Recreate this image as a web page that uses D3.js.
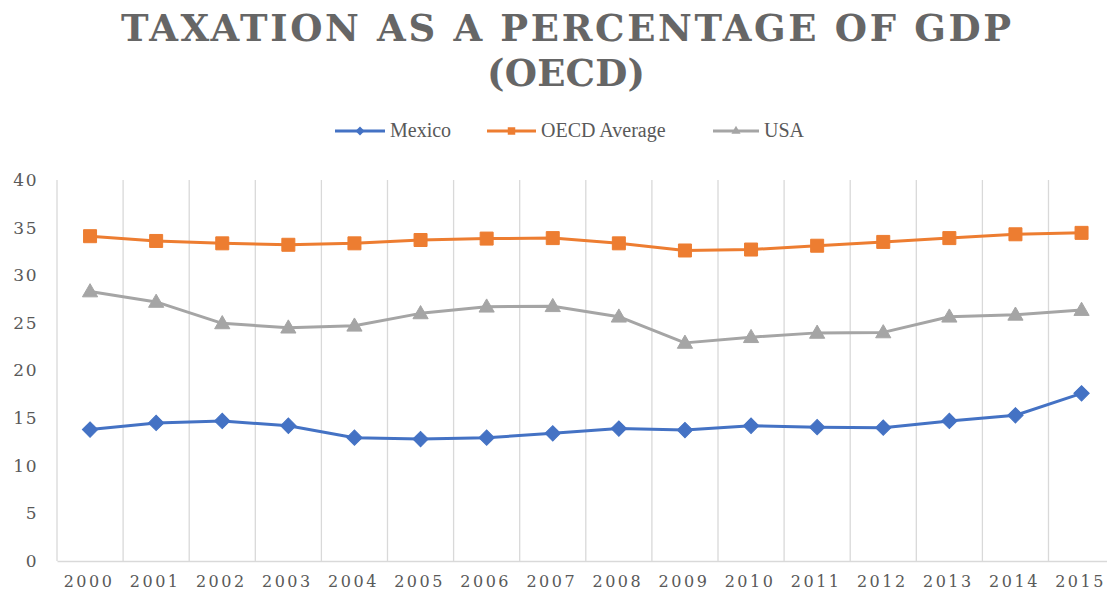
<!DOCTYPE html>
<html lang="en">
	<head>
		<meta charset="utf-8">
		<title>Taxation as a percentage of GDP</title>
		<script type="text/javascript" src="https://cdn.jsdelivr.net/npm/d3@7"></script>
		<style type="text/css">
			body { margin: 0; background: #fff; }
			svg { display: block; }
		</style>
	</head>

	<body>
		<script type="text/javascript">
			/* values */
			var years = ["2000", "2001", "2002", "2003", "2004", "2005", "2006", "2007",
						 "2008", "2009", "2010", "2011", "2012", "2013", "2014", "2015"];
			var mexico = [13.8, 14.5, 14.7, 14.2, 12.95, 12.8, 12.95, 13.4,
						  13.9, 13.75, 14.2, 14.05, 14.0, 14.7, 15.3, 17.6];
			var oecdAverage = [34.1, 33.6, 33.35, 33.2, 33.35, 33.7, 33.85, 33.9,
							   33.35, 32.6, 32.7, 33.1, 33.5, 33.9, 34.3, 34.45];
			var usa = [28.3, 27.2, 24.95, 24.5, 24.7, 26.0, 26.7, 26.75,
					   25.65, 22.9, 23.5, 23.95, 24.0, 25.65, 25.85, 26.35];
			var yTicks = [0, 5, 10, 15, 20, 25, 30, 35, 40];

			var series = [
				{ name: "Mexico", values: mexico, color: "#4472C4", shape: "diamond" },
				{ name: "OECD Average", values: oecdAverage, color: "#ED7D31", shape: "square" },
				{ name: "USA", values: usa, color: "#A5A5A5", shape: "triangle" }
			];

			var svgWidth = 1107;
			var svgHeight = 596;
			var textColor = "#595959";
			var gridColor = "#d9d9d9";

			var svg = d3.select("body")
				.append("svg")
				.attr("width", svgWidth)
				.attr("height", svgHeight);

			/* plot area runs past the right edge, like the cropped original */
			var x = d3.scaleBand()
				.domain(years)
				.range([57, 57 + 66.1 * years.length])
				.padding(0);
			var y = d3.scaleLinear()
				.domain([0, 40])
				.range([561, 180]);

			function cx(d, i) { return x(years[i]) + x.bandwidth() / 2; }

			// title, spaced out wide
			var titleLines = [
				{ text: "TAXATION AS A PERCENTAGE OF GDP", y: 41, len: 890 },
				{ text: "(OECD)", y: 86, len: 158 }
			];
			svg.selectAll("text.title")
				.data(titleLines)
				.enter()
				.append("text")
				.attr("class", "title")
				.attr("x", 566)
				.attr("y", function(d) { return d.y; })
				.attr("text-anchor", "middle")
				.attr("textLength", function(d) { return d.len; })
				.attr("lengthAdjust", "spacing")
				.style("font-family", "'DejaVu Serif', serif")
				.style("font-weight", "bold")
				.style("font-size", "37px")
				.style("fill", "#666666")
				.text(function(d) { return d.text; });

			// vertical gridlines on the category boundaries
			var bounds = years.map(function(d) { return x(d); });
			bounds.push(x.range()[1]);
			svg.append("g")
				.selectAll("line")
				.data(bounds)
				.enter()
				.append("line")
				.attr("x1", function(d) { return d; })
				.attr("x2", function(d) { return d; })
				.attr("y1", y(40))
				.attr("y2", y(0))
				.attr("stroke", gridColor)
				.attr("stroke-width", 1.3);

			// x axis
			var xAxis = svg.append("g")
				.attr("transform", "translate(0," + y(0) + ")")
				.call(d3.axisBottom(x).tickSize(0).tickPadding(15));
			xAxis.select(".domain").attr("stroke", gridColor).attr("stroke-width", 1.3);
			xAxis.selectAll("text")
				.attr("dx", "-1px")
				.style("font-family", "'DejaVu Serif', serif")
				.style("font-size", "16px")
				.style("letter-spacing", "2.5px")
				.style("fill", textColor);

			// y axis
			var yAxis = svg.append("g")
				.attr("transform", "translate(57,0)")
				.call(d3.axisLeft(y).tickValues(yTicks).tickSize(0).tickPadding(19));
			yAxis.select(".domain").remove();
			yAxis.selectAll("text")
				.style("font-family", "'DejaVu Serif', serif")
				.style("font-size", "17px")
				.style("letter-spacing", "1.5px")
				.style("fill", textColor);

			function symbolPath(shape, big) {
				if (shape === "diamond") {
					return d3.symbol().type(d3.symbolSquare).size(big ? 118 : 40)();
				}
				if (shape === "square") {
					return d3.symbol().type(d3.symbolSquare).size(big ? 169 : 56)();
				}
				return d3.symbol().type(d3.symbolTriangle).size(big ? 100 : 36)();
			}

			var line = d3.line()
				.x(cx)
				.y(function(d) { return y(d); });

			var groups = svg.selectAll("g.series")
				.data(series)
				.enter()
				.append("g")
				.attr("class", "series");

			groups.append("path")
				.attr("d", function(s) { return line(s.values); })
				.attr("fill", "none")
				.attr("stroke", function(s) { return s.color; })
				.attr("stroke-width", 3)
				.attr("stroke-linejoin", "round");

			groups.each(function(s) {
				d3.select(this).selectAll("path.marker")
					.data(s.values)
					.enter()
					.append("path")
					.attr("class", "marker")
					.attr("d", symbolPath(s.shape, true))
					.attr("transform", function(d, i) {
						var t = "translate(" + cx(d, i) + "," + y(d) + ")";
						if (s.shape === "diamond") t += " rotate(45)";
						if (s.shape === "triangle") t += " translate(0,1)";
						return t;
					})
					.attr("fill", s.color)
					.attr("stroke", s.color)
					.attr("stroke-width", 1);
			});

			// legend
			var legendItems = [
				{ s: series[0], x: 335, tx: 390 },
				{ s: series[1], x: 487, tx: 541 },
				{ s: series[2], x: 713, tx: 764 }
			];
			var legend = svg.selectAll("g.legend")
				.data(legendItems)
				.enter()
				.append("g")
				.attr("class", "legend")
				.attr("transform", function(d) { return "translate(" + d.x + ",131)"; });
			legend.append("line")
				.attr("x1", 0)
				.attr("x2", function(d) { return d.tx - d.x - 5; })
				.attr("stroke", function(d) { return d.s.color; })
				.attr("stroke-width", 3);
			legend.append("path")
				.attr("d", function(d) { return symbolPath(d.s.shape, false); })
				.attr("transform", function(d) {
					var t = "translate(" + (d.tx - d.x - 5) / 2 + ",0)";
					return d.s.shape === "diamond" ? t + " rotate(45)" : t;
				})
				.attr("fill", function(d) { return d.s.color; });
			legend.append("text")
				.attr("x", function(d) { return d.tx - d.x; })
				.attr("y", 6)
				.style("font-family", "'Liberation Serif', serif")
				.style("font-size", "20px")
				.style("fill", textColor)
				.text(function(d) { return d.s.name; });
		</script>
	</body>
</html>
